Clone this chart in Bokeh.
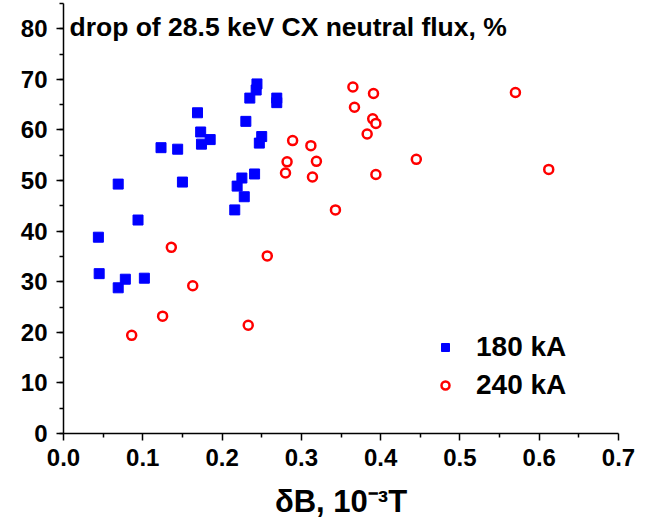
from bokeh.plotting import figure
from bokeh.models import Range1d, FixedTicker, SingleIntervalTicker, PrintfTickFormatter, Legend, LegendItem, Label
from bokeh.embed import file_html
from bokeh.resources import INLINE

# 180 kA series (delta B in 1e-3 T, drop in %)
b180_x = [0.244, 0.243, 0.235, 0.269, 0.269, 0.169, 0.230, 0.173, 0.250, 0.185,
          0.174, 0.247, 0.123, 0.144, 0.069, 0.150, 0.241, 0.225, 0.219, 0.228,
          0.216, 0.094, 0.044, 0.045, 0.078, 0.069, 0.102]
b180_y = [69.1, 67.9, 66.3, 66.3, 65.4, 63.4, 61.7, 59.6, 58.7, 58.1,
          57.2, 57.4, 56.5, 56.2, 49.3, 49.7, 51.3, 50.5, 48.9, 46.8,
          44.2, 42.2, 38.8, 31.6, 30.5, 28.8, 30.7]

# 240 kA series
b240_x = [0.289, 0.312, 0.282, 0.319, 0.280, 0.314, 0.343, 0.136, 0.257, 0.163,
          0.125, 0.233, 0.086, 0.365, 0.391, 0.367, 0.390, 0.394, 0.383, 0.445,
          0.394, 0.570, 0.612]
b240_y = [57.9, 56.9, 53.7, 53.8, 51.5, 50.7, 44.2, 36.8, 35.1, 29.2,
          23.2, 21.4, 19.4, 68.5, 67.2, 64.5, 62.2, 61.3, 59.2, 54.2,
          51.2, 67.4, 52.2]

x_ticks = [0.0, 0.1, 0.2, 0.3, 0.4, 0.5, 0.6, 0.7]
x_minor_ticks = [0.05, 0.15, 0.25, 0.35, 0.45, 0.55, 0.65]

series_names = ["180 kA", "240 kA"]
title_text = "drop of 28.5 keV CX neutral flux, %"
x_label = "\u03b4B, 10\u207b\u00b3T"

FONT = "Liberation Sans"

p = figure(width=647, height=526, output_backend="svg", toolbar_location=None,
           x_range=Range1d(0, 0.7), y_range=Range1d(0, 85),
           min_border_left=63, min_border_right=29, min_border_top=3, min_border_bottom=93)
p.outline_line_color = None
p.xgrid.visible = False
p.ygrid.visible = False
p.background_fill_color = "white"
p.border_fill_color = "white"

p.xaxis.ticker = FixedTicker(ticks=x_ticks, minor_ticks=x_minor_ticks)
p.yaxis.ticker = SingleIntervalTicker(interval=10, num_minor_ticks=2)
p.xaxis.formatter = PrintfTickFormatter(format="%.1f")

for ax in (p.xaxis, p.yaxis):
    ax.axis_line_width = 1.5
    ax.axis_line_color = "black"
    ax.major_tick_line_width = 1.5
    ax.minor_tick_line_width = 1.5
    ax.major_tick_line_color = "black"
    ax.minor_tick_line_color = "black"
    ax.major_tick_in = 0
    ax.major_tick_out = 7
    ax.minor_tick_in = 0
    ax.minor_tick_out = 4
    ax.major_label_text_font = FONT
    ax.major_label_text_font_style = "bold"
    ax.major_label_text_font_size = "24px"
    ax.major_label_text_color = "black"

p.xaxis.major_label_standoff = 8
p.yaxis.major_label_standoff = 9
p.xaxis.axis_label = x_label
p.xaxis.axis_label_text_font = FONT
p.xaxis.axis_label_text_font_style = "bold"
p.xaxis.axis_label_text_font_size = "31px"
p.xaxis.axis_label_text_color = "black"
p.xaxis.axis_label_standoff = 15

r1 = p.scatter(b180_x, b180_y, marker="square", size=10,
               fill_color="#0000ff", line_color="#0000ff", line_width=1)
r2 = p.scatter(b240_x, b240_y, marker="circle", size=9,
               fill_color="white", line_color="#ff0000", line_width=2.5)

legend = Legend(items=[LegendItem(label=series_names[0], renderers=[r1]),
                       LegendItem(label=series_names[1], renderers=[r2])],
                location=(372, 29), border_line_color=None, background_fill_alpha=0,
                glyph_width=20, glyph_height=38, label_height=38, label_standoff=21,
                spacing=0, padding=10,
                label_text_font=FONT, label_text_font_style="bold",
                label_text_font_size="28px", label_text_color="black")
p.add_layout(legend)

p.add_layout(Label(x=0.0075, y=80.4, text=title_text, text_font=FONT,
                   text_font_style="bold", text_font_size="26.5px", text_color="black",
                   text_baseline="alphabetic"))

open("out.html", "w").write(file_html(p, INLINE))
